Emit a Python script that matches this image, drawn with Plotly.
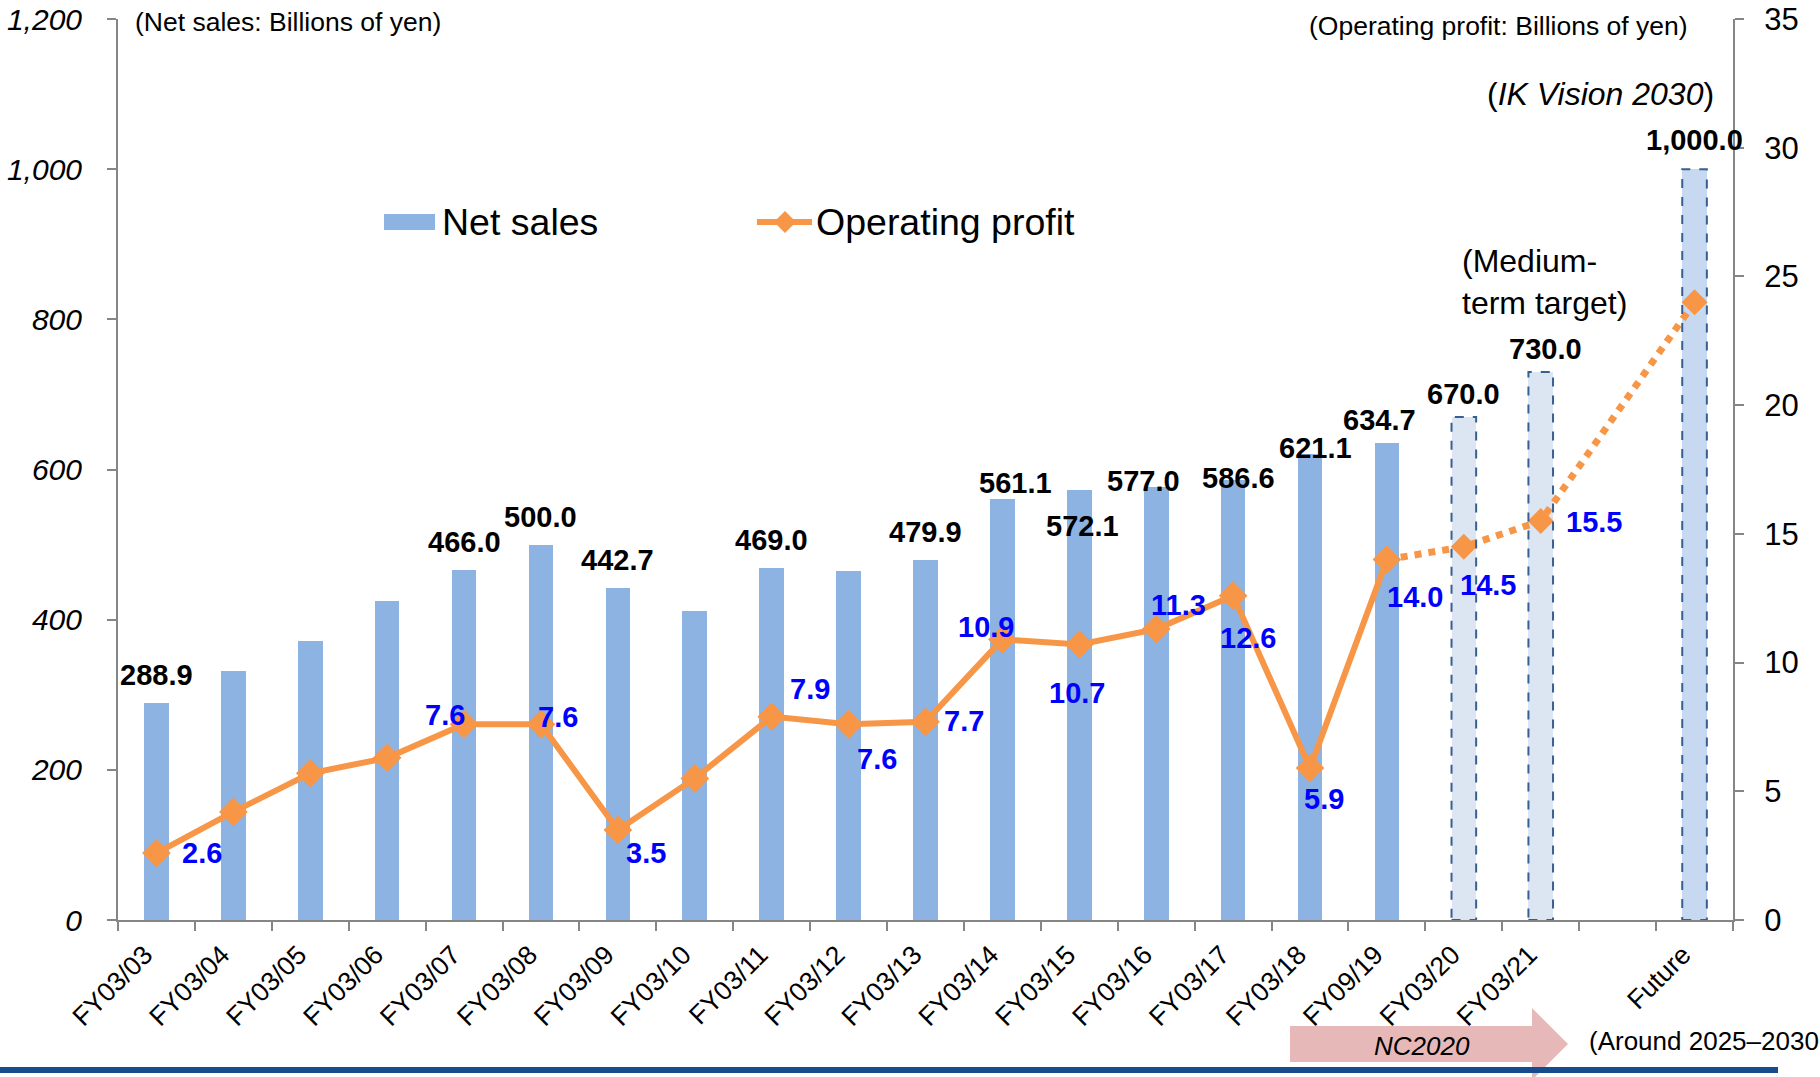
import plotly.graph_objects as go

categories = ["FY03/03", "FY03/04", "FY03/05", "FY03/06", "FY03/07", "FY03/08", "FY03/09",
              "FY03/10", "FY03/11", "FY03/12", "FY03/13", "FY03/14", "FY03/15", "FY03/16",
              "FY03/17", "FY03/18", "FY09/19", "FY03/20", "FY03/21", " ", "Future"]
net_sales = [288.9, 332, 371, 425, 466.0, 500.0, 442.7, 411, 469.0, 465, 479.9, 561.1,
             572.1, 577.0, 586.6, 621.1, 634.7, 670.0, 730.0, None, 1000.0]
op_profit = [2.6, 4.2, 5.7, 6.3, 7.6, 7.6, 3.5, 5.5, 7.9, 7.6, 7.7, 10.9, 10.7, 11.3,
             12.6, 5.9, 14.0, 14.5, 15.5, None, 24.0]
n_actual = 17  # FY03/03 .. FY09/19 are actual results
sales_labelled = [0, 4, 5, 6, 8, 10, 11, 12, 13, 14, 15, 16, 17, 18, 20]
profit_labelled = [0, 4, 5, 6, 8, 9, 10, 11, 12, 13, 14, 15, 16, 17, 18]

# label placement offsets (px) -- styling only
sales_offsets = {0: (0, 28), 4: (0, 28), 5: (0, 28), 6: (0, 28), 8: (0, 28), 10: (0, 28),
                 11: (13, 16), 12: (3, -36), 13: (-13, 6), 14: (5, 2), 15: (5, 6),
                 16: (-7, 23), 17: (0, 23), 18: (5, 23), 20: (0, 29)}
profit_offsets = {0: (46, 0), 4: (-19, 9), 5: (17, 7), 6: (28, -23), 8: (38, 28), 9: (28, -35),
                  10: (38, 1), 11: (-16, 12), 12: (-2, -48), 13: (22, 24), 14: (15, -42),
                  15: (14, -31), 16: (28, -37), 17: (24, -38), 18: (53, -1)}

FONT = "Liberation Sans, Arial, sans-serif"
BAR = "#8DB3E2"
ORANGE = "#F79646"
AXIS = "#868686"
BAR_W = 0.32
LABEL_SHIFT = 0.15  # shift of rotated category labels (in category units)

W, H = 1820, 1077
ML, MR, MT, MB = 118, 87, 19, 157
PW, PH = W - ML - MR, H - MT - MB


def px(x):
    return (x - ML) / PW


def py(y):
    return (H - MB - y) / PH


fig = go.Figure()

# actual bars
fig.add_trace(go.Bar(x=categories[:n_actual], y=net_sales[:n_actual], width=BAR_W,
                     marker=dict(color=BAR, line=dict(width=0)), yaxis="y", showlegend=False,
                     hoverinfo="x+y"))
# target bars (fill)
target_fill = ["#DCE6F2", "#DCE6F2", "#DCE6F2", "#C6D9F1"]
fig.add_trace(go.Bar(x=categories[n_actual:], y=net_sales[n_actual:], width=BAR_W,
                     marker=dict(color=target_fill, line=dict(width=0)), yaxis="y",
                     showlegend=False))

shapes = []
# dashed outlines for target bars
for i in range(n_actual, len(categories)):
    v = net_sales[i]
    if v is None:
        continue
    shapes.append(dict(type="rect", xref="x", yref="y", x0=i - BAR_W / 2, x1=i + BAR_W / 2,
                       y0=0, y1=v, line=dict(color="#376092", width=2, dash="dash"),
                       fillcolor="rgba(0,0,0,0)", layer="above"))

# operating profit - actual (solid)
fig.add_trace(go.Scatter(x=categories[:n_actual], y=op_profit[:n_actual], yaxis="y2",
                         mode="lines+markers", line=dict(color=ORANGE, width=6),
                         marker=dict(symbol="diamond", size=22, color=ORANGE),
                         showlegend=False))
# operating profit - targets (dotted)
tx = [c for c, v in zip(categories[n_actual - 1:], op_profit[n_actual - 1:]) if v is not None]
ty = [v for v in op_profit[n_actual - 1:] if v is not None]
fig.add_trace(go.Scatter(x=tx, y=ty, yaxis="y2", mode="lines", line=dict(color=ORANGE, width=7, dash="dot"),
                         showlegend=False))
fig.add_trace(go.Scatter(x=tx[1:], y=ty[1:], yaxis="y2", mode="markers",
                         marker=dict(symbol="diamond", size=20, color=ORANGE, line=dict(width=0)),
                         showlegend=False))
# invisible carrier for the category-label axis
fig.add_trace(go.Scatter(x=categories, y=[None] * len(categories), xaxis="x2", yaxis="y",
                         mode="markers", showlegend=False, hoverinfo="skip"))

annotations = []
for i in sales_labelled:
    dx, dy = sales_offsets[i]
    annotations.append(dict(x=categories[i], y=net_sales[i], xref="x", yref="y",
                            text=f"<b>{net_sales[i]:,.1f}</b>", showarrow=False,
                            xanchor="center", yanchor="middle", xshift=dx, yshift=dy,
                            font=dict(family=FONT, size=29, color="black")))
for i in profit_labelled:
    dx, dy = profit_offsets[i]
    annotations.append(dict(x=categories[i], y=op_profit[i], xref="x", yref="y2",
                            text=f"<b>{op_profit[i]:.1f}</b>", showarrow=False,
                            xanchor="center", yanchor="middle", xshift=dx, yshift=dy,
                            font=dict(family=FONT, size=29, color="#0000FF")))

# unit notes
annotations.append(dict(x=px(133), y=py(22), xref="paper", yref="paper", showarrow=False,
                        xanchor="left", yanchor="middle", text="(Net sales: Billions of yen)",
                        font=dict(family=FONT, size=26.5, color="black")))
annotations.append(dict(x=px(1690), y=py(26), xref="paper", yref="paper", showarrow=False,
                        xanchor="right", yanchor="middle", text="(Operating profit: Billions of yen)",
                        font=dict(family=FONT, size=26.5, color="black")))
annotations.append(dict(x=px(1716), y=py(94), xref="paper", yref="paper", showarrow=False,
                        xanchor="right", yanchor="middle", text="(<i>IK Vision 2030</i>)",
                        font=dict(family=FONT, size=32, color="black")))
annotations.append(dict(x=px(1460), y=py(282), xref="paper", yref="paper", showarrow=False,
                        xanchor="left", yanchor="middle", align="left",
                        text="(Medium-<br>term target)",
                        font=dict(family=FONT, size=32, color="black")))

# custom legend
shapes.append(dict(type="rect", xref="paper", yref="paper", x0=px(384), x1=px(435),
                   y0=py(230), y1=py(214), fillcolor=BAR, line=dict(width=0)))
annotations.append(dict(x=px(440), y=py(222), xref="paper", yref="paper", showarrow=False,
                        xanchor="left", yanchor="middle", text="Net sales",
                        font=dict(family=FONT, size=37.5, color="black")))
shapes.append(dict(type="line", xref="paper", yref="paper", x0=px(757), x1=px(812),
                   y0=py(222), y1=py(222), line=dict(color=ORANGE, width=6)))
shapes.append(dict(type="path", xref="paper", yref="paper",
                   path=f"M {px(785)},{py(211)} L {px(796)},{py(222)} L {px(785)},{py(233)} L {px(774)},{py(222)} Z",
                   fillcolor=ORANGE, line=dict(width=0)))
annotations.append(dict(x=px(814), y=py(222), xref="paper", yref="paper", showarrow=False,
                        xanchor="left", yanchor="middle", text="Operating profit",
                        font=dict(family=FONT, size=37.5, color="black")))

# NC2020 arrow + bottom rule
shapes.append(dict(type="line", xref="paper", yref="paper", x0=px(0), x1=px(1778),
                   y0=py(1070), y1=py(1070), line=dict(color="#164C8C", width=6)))
shapes.append(dict(type="path", xref="paper", yref="paper",
                   path=(f"M {px(1290)},{py(1026)} L {px(1532)},{py(1026)} L {px(1532)},{py(1008)} "
                         f"L {px(1568)},{py(1044)} L {px(1532)},{py(1080)} L {px(1532)},{py(1062)} "
                         f"L {px(1290)},{py(1062)} Z"),
                   fillcolor="#E6B9B8", line=dict(width=0), layer="below"))
annotations.append(dict(x=px(1422), y=py(1046), xref="paper", yref="paper", showarrow=False,
                        xanchor="center", yanchor="middle", text="<i>NC2020</i>",
                        font=dict(family=FONT, size=26, color="black")))
annotations.append(dict(x=px(1587), y=py(1041), xref="paper", yref="paper", showarrow=False,
                        xanchor="left", yanchor="middle", text="(Around 2025–2030",
                        font=dict(family=FONT, size=26, color="black")))

axis_common = dict(automargin=False, ticks="outside", ticklen=9, tickwidth=2, tickcolor=AXIS,
                   showline=True, linecolor=AXIS, linewidth=2, showgrid=False, zeroline=False)

fig.update_layout(
    template="none",
    width=W, height=H,
    margin=dict(l=ML, r=MR, t=MT, b=MB, pad=0, autoexpand=False),
    plot_bgcolor="white", paper_bgcolor="white",
    font=dict(family=FONT, color="black"),
    bargap=0, showlegend=False,
    xaxis=dict(type="category", categoryorder="array", categoryarray=categories,
               range=[-0.5, len(categories) - 0.5], tickson="boundaries",
               showticklabels=False, **axis_common),
    xaxis2=dict(type="category", categoryorder="array", categoryarray=categories,
                range=[-0.5 + LABEL_SHIFT, len(categories) - 0.5 + LABEL_SHIFT],
                overlaying="x", anchor="y", side="bottom", automargin=False,
                showline=False, ticks="", showgrid=False, zeroline=False,
                tickangle=-45, ticklabelstandoff=13,
                tickfont=dict(family=FONT, size=26.5, color="black")),
    yaxis=dict(range=[0, 1200], dtick=200, tickformat=",", ticklabelstandoff=19,
               ticklabeloverflow="allow",
               tickfont=dict(family=FONT, size=30, color="black", style="italic"), **axis_common),
    yaxis2=dict(range=[0, 35], dtick=5, overlaying="y", side="right", ticklabelstandoff=14,
                ticklabeloverflow="allow",
                tickfont=dict(family=FONT, size=31, color="black"), **axis_common),
    shapes=shapes,
    annotations=annotations,
)

fig.write_html("out.html", config={"displayModeBar": False},
               post_script="document.body.style.margin='0';")
